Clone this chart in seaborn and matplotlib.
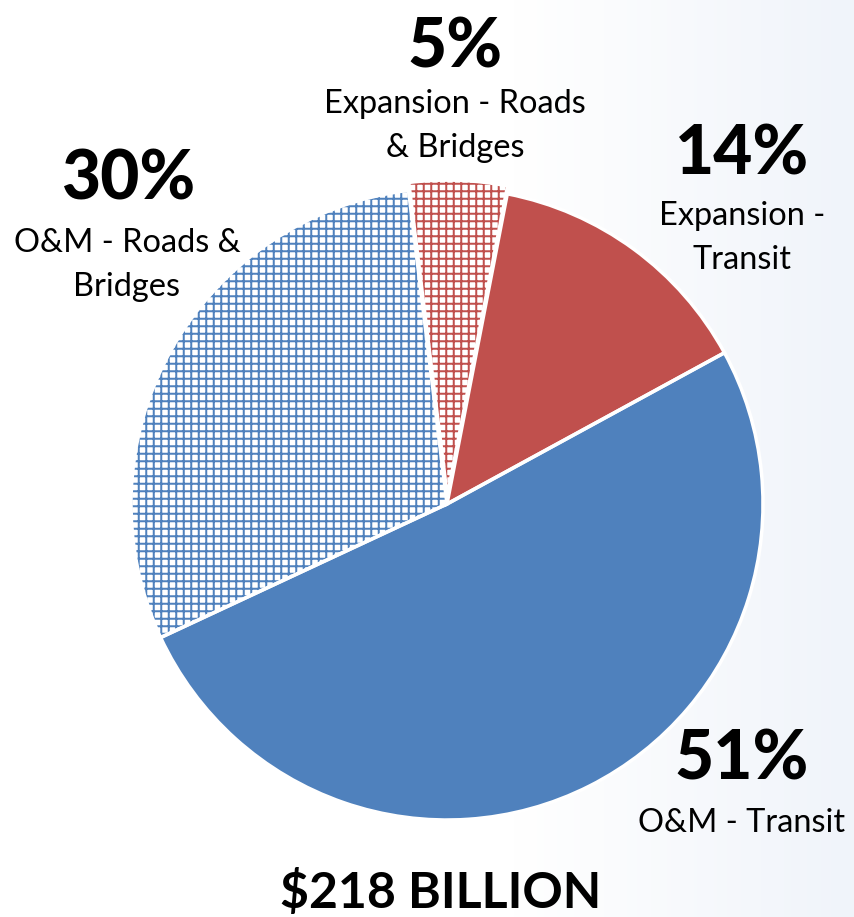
import numpy as np
import matplotlib
matplotlib.use('Agg')
import matplotlib.pyplot as plt
from matplotlib.colors import LinearSegmentedColormap
import seaborn as sns

# shares of the $218 billion, clockwise from the top
categories = ['Expansion - Roads\n& Bridges', 'Expansion -\nTransit', 'O&M - Transit', 'O&M - Roads &\nBridges']
shares = [5, 14, 51, 30]
pct_labels = ['5%', '14%', '51%', '30%']
hatched = [True, False, False, True]
total_label = '$218 BILLION'

sns.set_theme(style='white')
plt.rcParams['font.family'] = ['Lato', 'DejaVu Sans']
plt.rcParams['hatch.linewidth'] = 1.6

blue = '#4F81BD'
red = '#C0504D'
colors = [red, red, blue, blue]

W, H, DPI = 854, 918, 90
fig = plt.figure(figsize=(W / DPI, H / DPI), dpi=DPI)
fig.patch.set_facecolor('white')

# faint gradient toward the right edge
bg = fig.add_axes([0, 0, 1, 1], zorder=0)
grad = np.linspace(0, 1, 256)
grad = np.clip((grad - 0.6) / 0.4, 0, 1)[None, :]
cmap = LinearSegmentedColormap.from_list('bg', ['#FFFFFF', '#F0F4FA'])
bg.imshow(grad, aspect='auto', cmap=cmap, extent=[0, 1, 0, 1])
bg.axis('off')

cx, cy, r = 447, 505, 316
ax = fig.add_axes([(cx - r) / W, 1 - (cy + r) / H, 2 * r / W, 2 * r / H], zorder=1)
ax.patch.set_alpha(0)
explode = [0.025, 0, 0, 0]

wedges, _ = ax.pie(shares, colors=colors, startangle=97, counterclock=False,
                   explode=explode, wedgeprops=dict(linewidth=0))
for w, h, c in zip(wedges, hatched, colors):
    if h:
        w.set_facecolor('white')
        w.set_edgecolor(c)
        w.set_hatch('++')
# white separators on top
outline, _ = ax.pie(shares, colors=['none'] * 4, startangle=97, counterclock=False,
                    explode=explode, wedgeprops=dict(linewidth=2.8, edgecolor='white'))
ax.set_xlim(-1, 1)
ax.set_ylim(-1, 1)
ax.set_aspect('equal')
ax.axis('off')


def put(x, y, s, **kw):
    fig.text(x / W, 1 - y / H, s, ha='center', va='center', **kw)


pct_pos = [(455, 48), (742, 155), (742, 760), (128, 180)]
lab_pos = [(455, 126), (742, 238), (742, 823), (127, 265)]
for p, s, lp, lab in zip(pct_pos, pct_labels, lab_pos, categories):
    put(*p, s, fontsize=54, fontweight='black', color='black')
    put(*lp, lab, fontsize=26, color='black', linespacing=1.55)

put(441, 893, total_label, fontsize=40, fontweight='bold', color='black')

fig.savefig('out.png', dpi=DPI)
